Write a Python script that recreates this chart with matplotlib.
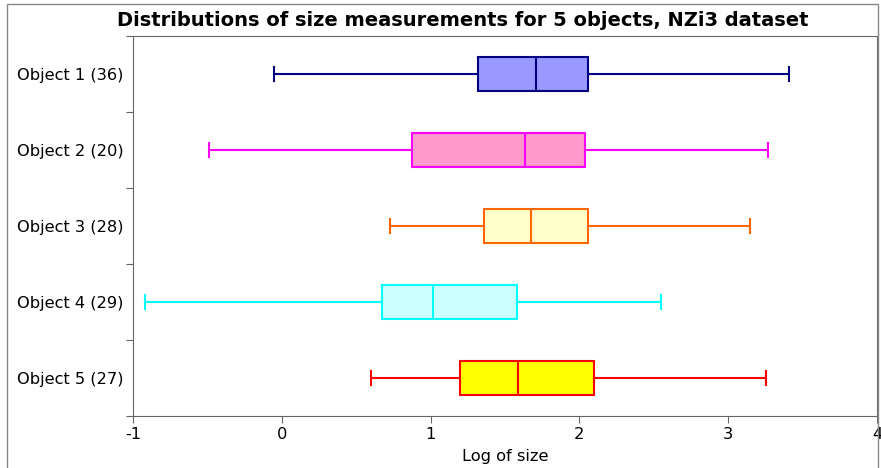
import matplotlib.pyplot as plt
from matplotlib.patches import Rectangle

labels = ['Object 1 (36)', 'Object 2 (20)', 'Object 3 (28)', 'Object 4 (29)', 'Object 5 (27)']
whislo = [-0.054, -0.49, 0.726, -0.921, 0.598]
q1 = [1.317, 0.874, 1.358, 0.672, 1.196]
med = [1.707, 1.633, 1.673, 1.015, 1.586]
q3 = [2.056, 2.036, 2.056, 1.579, 2.097]
whishi = [3.407, 3.266, 3.145, 2.547, 3.253]
edge_colors = ['#000080', '#ff00ff', '#ff6600', '#00ffff', '#ff0000']
fill_colors = ['#9999ff', '#ff99cc', '#ffffcc', '#ccffff', '#ffff00']

W, H = 881, 468
fig = plt.figure(figsize=(W / 100, H / 100), dpi=100)
ax = fig.add_axes([133 / W, 1 - 416 / H, (877 - 133) / W, (416 - 36) / H])

# figure border
fig.patches.append(Rectangle((7 / W, -0.1), (878 - 7) / W, 1.1 - 4 / H,
                             transform=fig.transFigure, fill=False,
                             edgecolor='#888888', linewidth=1))

n = len(labels)
positions = [n - i for i in range(n)]
for i in range(n):
    stats = [dict(whislo=whislo[i], q1=q1[i], med=med[i], q3=q3[i],
                  whishi=whishi[i], fliers=[])]
    c = edge_colors[i]
    ax.bxp(stats, positions=[positions[i]], vert=False, widths=0.45,
           patch_artist=True, capwidths=0.18,
           boxprops=dict(facecolor=fill_colors[i], edgecolor=c, linewidth=1.5),
           medianprops=dict(color=c, linewidth=1.5),
           whiskerprops=dict(color=c, linewidth=1.5),
           capprops=dict(color=c, linewidth=1.5))

ax.set_xlim(-1, 4)
ax.set_ylim(0.5, n + 0.5)
ax.set_xticks([-1, 0, 1, 2, 3, 4])
ax.set_xticklabels(['-1', '0', '1', '2', '3', '4'], fontsize=11.7)
ax.set_yticks([i + 0.5 for i in range(n + 1)])
ax.set_yticklabels([])
ax.set_yticks(positions, minor=True)
ax.set_yticklabels(labels, minor=True, fontsize=11.7)
ax.tick_params(axis='y', which='minor', length=0, pad=7)
ax.tick_params(axis='y', which='major', length=5, color='#666666')
ax.tick_params(axis='x', length=5, color='#666666', pad=3)
for s in ax.spines.values():
    s.set_color('#666666')
ax.set_xlabel('Log of size', fontsize=11.7, labelpad=5)
fig.text(463 / W, 1 - 20 / H, 'Distributions of size measurements for 5 objects, NZi3 dataset',
         ha='center', va='center', fontsize=14, fontweight='bold')

fig.savefig('out.png', dpi=100)
